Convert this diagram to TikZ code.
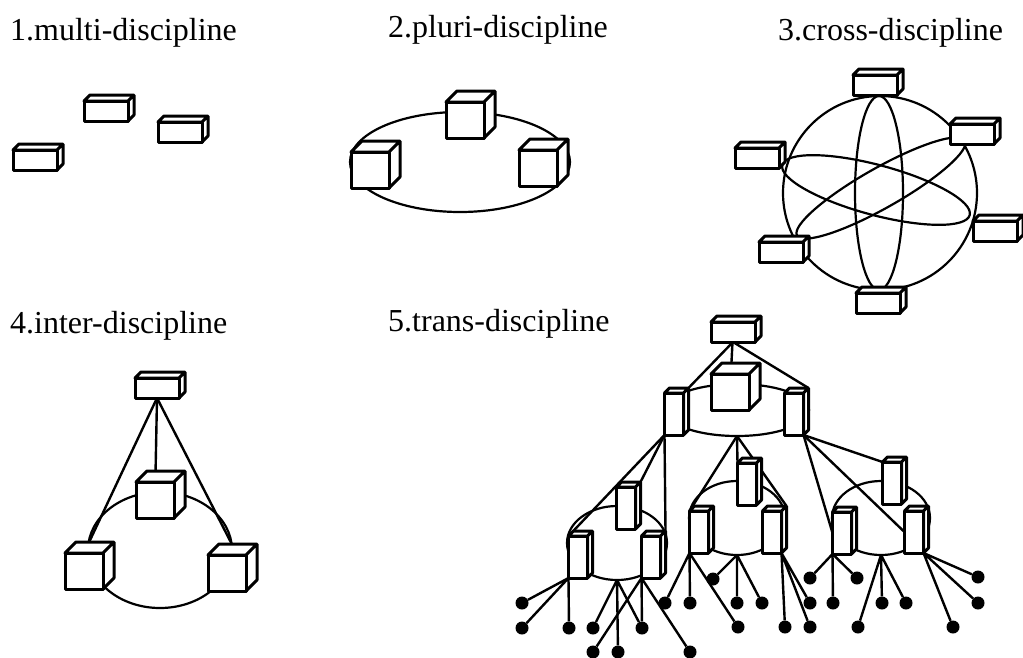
\documentclass[tikz,border=0pt]{standalone}
\usepackage{fontspec}
\setmainfont{Liberation Serif}
\usepackage{tikz}
\usetikzlibrary{calc}
\usetikzlibrary{shapes.geometric}

\pgfdeclarelayer{background}
\pgfsetlayers{background,main}

\tikzset{
	face/.style={draw, fill=white, line width=3pt, line join=round},
	block/.style n args={3}{
		face,
		inner sep=0pt,
		outer sep=0pt,
		minimum width=#1,
		minimum height=#2,
		append after command={\pgfextra{
			\edef\blk{\tikzlastnode}
			\draw[face] (\blk.north west) -- ++(#3,-#3) -| ($(\blk.south east)+(#3,-#3)$)
				-- (\blk.south east) -- (\blk.north east) -- cycle
				(\blk.north east) -- ++(#3,-#3);
			\coordinate (\blk-back) at ($(\blk.north east)+(#3,-#3)$);
		}}
	},
	slab/.style={block={44pt}{20pt}{6}},
	cubebox/.style={block={38pt}{36pt}{11}},
	tower/.style={block={19pt}{42pt}{5}},
	ring/.style 2 args={
		draw,
		ellipse,
		line width=2.2pt,
		inner sep=0pt,
		outer sep=0pt,
		minimum width=#1,
		minimum height=#2
	},
	leaf/.style={circle, fill=black, inner sep=0pt, minimum size=13pt},
	link/.style={line width=2.4pt},
	caption/.style={anchor=base west, inner sep=0pt, font=\fontsize{32}{38}\selectfont}
}

\begin{document}
\begin{tikzpicture}[x=1pt, y=-1pt]
\useasboundingbox (0,0) rectangle (1023,657);

% --- titles
\node[caption] (multiTitle) at (10,40) {1.multi-discipline};
\node[caption] (pluriTitle) at (388,37) {2.pluri-discipline};
\node[caption] (crossTitle) at (778,40) {3.cross-discipline};
\node[caption] (interTitle) at (10,333) {4.inter-discipline};
\node[caption] (transTitle) at (388,331) {5.trans-discipline};

% --- 1.multi
\node[slab] (multiA) at (106,111) {};
\node[slab] (multiB) at (180,132) {};
\node[slab] (multiC) at (35,160) {};

% --- 2.pluri
\node[cubebox] (pluriTop) at (465,120) {};
\node[cubebox] (pluriLeft) at (370,170) {};
\node[cubebox] (pluriRight) at (538,168) {};

% --- 3.cross
\node[slab] (crossTop) at (875,85) {};
\node[slab] (crossUpRight) at (972,134) {};
\node[slab] (crossLeft) at (757,158) {};
\node[slab] (crossRight) at (995,231) {};
\node[slab] (crossLowLeft) at (781,252) {};
\node[slab] (crossBottom) at (878,303) {};

% --- 4.inter
\node[slab] (interTop) at (157,388) {};
\node[cubebox] (interCenter) at (155,500) {};
\node[cubebox] (interLeft) at (84,571) {};
\node[cubebox] (interRight) at (227,573) {};

% --- 5.trans
\node[slab] (transTop) at (733,332) {};
\node[cubebox] (transCube) at (730,392) {};
\node[tower] (transLeft) at (674,414) {};
\node[tower] (transRight) at (794,414) {};

\node[tower] (leftCenter) at (626,508) {};
\node[tower] (leftLeft) at (578,557) {};
\node[tower] (leftRight) at (651,557) {};

\node[tower] (midCenter) at (747,484) {};
\node[tower] (midLeft) at (699,532) {};
\node[tower] (midRight) at (772,532) {};

\node[tower] (rightCenter) at (892,483) {};
\node[tower] (rightLeft) at (842,533) {};
\node[tower] (rightRight) at (914,532) {};

\node[leaf] (leftDot1) at (522,603) {};
\node[leaf] (leftDot2) at (522,628) {};
\node[leaf] (leftDot3) at (569,628) {};
\node[leaf] (leftDot4) at (593,628) {};
\node[leaf] (leftDot5) at (642,628) {};
\node[leaf] (leftDot6) at (593,652) {};
\node[leaf] (leftDot7) at (618,652) {};
\node[leaf] (leftDot8) at (690,652) {};

\node[leaf] (midDot1) at (665,603) {};
\node[leaf] (midDot2) at (690,603) {};
\node[leaf] (midDot3) at (738,627) {};
\node[leaf] (midDot4) at (713,579) {};
\node[leaf] (midDot5) at (737,603) {};
\node[leaf] (midDot6) at (762,603) {};
\node[leaf] (midDot7) at (785,627) {};
\node[leaf] (midDot8) at (810,603) {};
\node[leaf] (midDot9) at (810,627) {};

\node[leaf] (rightDot1) at (810,578) {};
\node[leaf] (rightDot2) at (833,603) {};
\node[leaf] (rightDot3) at (857,578) {};
\node[leaf] (rightDot4) at (858,627) {};
\node[leaf] (rightDot5) at (882,603) {};
\node[leaf] (rightDot6) at (906,603) {};
\node[leaf] (rightDot7) at (978,577) {};
\node[leaf] (rightDot8) at (978,603) {};
\node[leaf] (rightDot9) at (953,627) {};

\begin{pgfonlayer}{background}
% --- rings
\node[ring={220pt}{100pt}] (pluriRing) at (460,162) {};

\node[ring={194pt}{194pt}] (crossSphere) at (880,193) {};
\node[ring={48pt}{194pt}] (crossMeridian) at (879,193) {};
\node[ring={194pt}{50pt}, rotate=-15] (crossTilt) at (876,190) {};
\node[ring={193pt}{40pt}, rotate=29.5] (crossSteep) at (881,188) {};

\node[ring={144pt}{116pt}] (interRing) at (160,550) {};

\node[ring={144pt}{52pt}] (transRing) at (737,410) {};
\node[ring={100pt}{74pt}] (leftRing) at (617,543) {};
\node[ring={96pt}{74pt}] (midRing) at (737,518) {};
\node[ring={98pt}{74pt}] (rightRing) at (881,518) {};

% --- 4.inter links
\draw[link] (interTop.south) -- (interCenter);
\draw[link] (interTop.south) -- (interLeft.north);
\draw[link] (interTop.south) -- (interRight.60);

% --- 5.trans links
\draw[link] (transTop.south) -- (transLeft-back);
\draw[link] (transTop) -- (transCube);
\draw[link] (transTop.south) -- (transRight-back);

\draw[link] (transLeft.south west) -- (leftLeft.north west);
\draw[link] (transLeft.south west) -- (leftCenter-back);
\draw[link] (transLeft.south west) -- (leftRight-back);

\draw[link] (transRing.south) -- (midLeft.north west);
\draw[link] (transRing.south) -- (midCenter.north west);
\draw[link] (transRing.south) -- (midRight-back);

\draw[link] (transRight.south east) -- (rightLeft.west);
\draw[link] (transRight.south east) -- (rightCenter.north west);
\draw[link] (transRight.south east) -- (rightRight.west);

% ---

\draw[link] (leftLeft.south west) -- (leftDot1)
	(leftLeft.south west) -- (leftDot2)
	(leftLeft.south west) -- (leftDot3);
\draw[link] (leftRing.south) -- (leftDot4)
	(leftRing.south) -- (leftDot7)
	(leftRing.south) -- (leftDot5);
\draw[link] (leftRight.south west) -- (leftDot6)
	(leftRight.south west) -- (leftDot5)
	(leftRight.south west) -- (leftDot8);

\draw[link] (midLeft.south west) -- (midDot1)
	(midLeft.south west) -- (midDot2)
	(midLeft.south west) -- (midDot3);
\draw[link] (midRing.south) -- (midDot4)
	(midRing.south) -- (midDot5)
	(midRing.south) -- (midDot6);
\draw[link] (midRight.south east) -- (midDot7)
	(midRight.south east) -- (midDot8)
	(midRight.south east) -- (midDot9);

\draw[link] (rightLeft.south west) -- (rightDot1)
	(rightLeft.south west) -- (rightDot2)
	(rightLeft.south west) -- (rightDot3);
\draw[link] (rightRing.south) -- (rightDot4)
	(rightRing.south) -- (rightDot5)
	(rightRing.south) -- (rightDot6);
\draw[link] (rightRight.south east) -- (rightDot7)
	(rightRight.south east) -- (rightDot8)
	(rightRight.south east) -- (rightDot9);
\end{pgfonlayer}

\end{tikzpicture}
\end{document}
